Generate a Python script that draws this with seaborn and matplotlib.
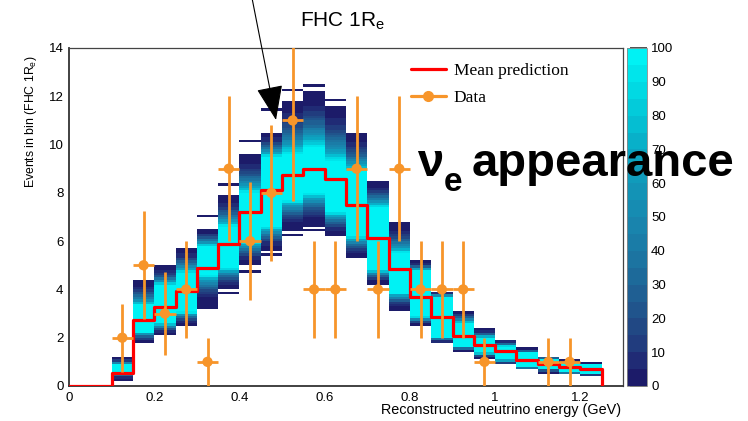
import numpy as np
import matplotlib
matplotlib.use("Agg")
import matplotlib.pyplot as plt
import seaborn as sns
import pandas as pd
from matplotlib.colors import LinearSegmentedColormap, ListedColormap, BoundaryNorm
from matplotlib.lines import Line2D

# ---------------- data ----------------
# reconstructed energy bin edges (GeV), width 0.05
bin_edges = [0.00, 0.05, 0.10, 0.15, 0.20, 0.25, 0.30, 0.35, 0.40, 0.45, 0.50,
             0.55, 0.60, 0.65, 0.70, 0.75, 0.80, 0.85, 0.90, 0.95, 1.00, 1.05,
             1.10, 1.15, 1.20, 1.25]
# mean prediction per bin (25 bins)
mean_pred = [0.0, 0.0, 0.55, 2.72, 3.26, 3.95, 4.88, 5.90, 7.20, 8.10, 8.74,
             9.00, 8.57, 7.50, 6.15, 4.85, 3.70, 2.87, 2.07, 1.70, 1.46, 1.08,
             0.91, 0.80, 0.70]

# data points (bins with zero events are not drawn)
data_x = [0.125, 0.175, 0.225, 0.275, 0.325, 0.375, 0.425, 0.475, 0.525, 0.575,
          0.625, 0.675, 0.725, 0.775, 0.825, 0.875, 0.925, 0.975, 1.125, 1.175]
data_y = [2, 5, 3, 4, 1, 9, 6, 8, 11, 4, 4, 9, 4, 9, 4, 4, 4, 1, 1, 1]
data_err = [1.41, 2.24, 1.73, 2.00, 1.00, 3.00, 2.45, 2.83, 3.32, 2.00, 2.00,
            3.00, 2.00, 3.00, 2.00, 2.00, 2.00, 1.00, 1.00, 1.00]

# toy-prediction spread per column (columns start at 0.10 GeV)
band_lo = [0.25, 1.78, 2.07, 2.50, 3.35, 3.97, 5.00, 5.60, 6.45, 6.65, 6.20, 5.30,
           4.25, 3.15, 2.46, 1.77, 1.42, 1.15, 0.87, 0.66, 0.55, 0.46, 0.39]
band_hi = [1.16, 4.36, 4.97, 5.70, 6.50, 7.90, 9.60, 10.50, 11.80, 12.20, 11.65,
           10.45, 8.50, 6.75, 5.15, 3.90, 3.15, 2.36, 1.94, 1.55, 1.24, 1.08, 0.95]
core_lo = [0.58, 2.25, 2.60, 3.07, 4.60, 4.90, 6.00, 6.60, 7.70, 8.00, 7.20, 6.20,
           4.80, 3.85, 2.87, 2.04, 1.63, 1.37, 1.08, 0.80, 0.75, 0.60, 0.53]
core_hi = [0.87, 3.35, 4.18, 4.70, 5.80, 6.60, 8.00, 9.50, 9.60, 9.90, 9.30, 8.90,
           7.40, 5.50, 4.80, 3.70, 2.60, 2.00, 1.63, 1.37, 1.08, 0.95, 0.87]
iso_hi = [np.nan, np.nan, np.nan, np.nan, 7.10, 8.30, 10.20, 11.40, 12.26, 12.45,
          11.87, np.nan, np.nan, np.nan, np.nan, np.nan, np.nan, np.nan, np.nan,
          np.nan, np.nan, np.nan, np.nan]
iso_lo = [np.nan, np.nan, np.nan, np.nan, 3.20, 3.85, 4.75, 5.40, 6.25, 6.45,
          np.nan, np.nan, np.nan, np.nan, np.nan, np.nan, np.nan, np.nan, np.nan,
          np.nan, np.nan, np.nan, np.nan]

cbar_ticks = [0, 10, 20, 30, 40, 50, 60, 70, 80, 90, 100]

# ---------------- style ----------------
sns.set_style("white")
plt.rcParams['font.family'] = ['Liberation Sans', 'DejaVu Sans']
plt.rcParams['mathtext.fontset'] = 'custom'
plt.rcParams['mathtext.rm'] = 'Liberation Sans'
plt.rcParams['mathtext.it'] = 'Liberation Sans'
plt.rcParams['text.color'] = 'black'
plt.rcParams['xtick.labelcolor'] = 'black'
plt.rcParams['ytick.labelcolor'] = 'black'

W, H = 748, 421
fig = plt.figure(figsize=(W / 100, H / 100), dpi=100)
def fx(px): return px / W
def fy(py): return 1 - py / H

ax = fig.add_axes([fx(69), fy(386), fx(623) - fx(69), fy(48) - fy(386)])

# colormap (ROOT-like, 20 discrete levels)
anchors = ['#1b1462', '#1e2270', '#22357a', '#204f88', '#1e6597', '#1b78a4',
           '#1888b0', '#1296b8', '#0aa9c4', '#04c4d6', '#00dfe6', '#00f8f8']
pos = [0, 0.05, 0.1, 0.2, 0.3, 0.4, 0.5, 0.6, 0.7, 0.8, 0.9, 1.0]
base = LinearSegmentedColormap.from_list('rootcool', list(zip(pos, anchors)))
levels = np.arange(0, 105, 5)
cmap = ListedColormap([base((l + 2.5) / 100) for l in levels[:-1]])
norm = BoundaryNorm(levels, cmap.N)

# 2D toy histogram
col_edges = np.array(bin_edges[2:])
y_edges = np.arange(0, 14.0001, 0.1)
yc = 0.5 * (y_edges[1:] + y_edges[:-1])
Z = np.zeros((len(yc), len(col_edges) - 1))
for j in range(len(col_edges) - 1):
    lo, hi, clo, chi = band_lo[j], band_hi[j], core_lo[j], core_hi[j]
    for i, y in enumerate(yc):
        if clo <= y <= chi:
            v = 100
        elif lo <= y < clo:
            t = (y - lo) / (clo - lo)
            v = 1 + 98 * t ** 2.3
        elif chi < y <= hi:
            t = (hi - y) / (hi - chi)
            v = 1 + 98 * t ** 2.3
        else:
            v = 0
        Z[i, j] = v
    for iso in (iso_hi[j], iso_lo[j]):
        if not np.isnan(iso):
            Z[int(iso / 0.1), j] = 2
Zm = np.ma.masked_where(Z <= 0, Z)
mesh = ax.pcolormesh(col_edges, y_edges, Zm, cmap=cmap, norm=norm, zorder=1)

# mean prediction (step)
step_x = list(bin_edges) + [bin_edges[-1]]
step_y = list(mean_pred) + [mean_pred[-1], 0.0]
df_line = pd.DataFrame({'x': step_x, 'y': step_y})
sns.lineplot(data=df_line, x='x', y='y', ax=ax, color='#ff0000', lw=2.3,
             drawstyle='steps-post', estimator=None, sort=False, zorder=3)

# data
orange = '#f7952a'
ax.errorbar(data_x, data_y, xerr=0.025, yerr=data_err, fmt='none',
            ecolor=orange, elinewidth=2.0, capsize=0, zorder=4)
df_pts = pd.DataFrame({'x': data_x, 'y': data_y})
sns.scatterplot(data=df_pts, x='x', y='y', ax=ax, color=orange, s=55,
                edgecolor='none', zorder=5)

ax.set_xlim(0, 1.3)
ax.set_ylim(0, 14)
ax.set_xlabel('')
ax.set_ylabel('')
ax.set_xticks([0, 0.2, 0.4, 0.6, 0.8, 1.0, 1.2])
ax.set_xticklabels(['0', '0.2', '0.4', '0.6', '0.8', '1', '1.2'])
ax.set_xticks(np.arange(0, 1.30, 0.05), minor=True)
ax.set_yticks([0, 2, 4, 6, 8, 10, 12, 14])
ax.set_yticks(np.arange(0, 14.01, 0.5), minor=True)
ax.tick_params(axis='x', which='major', direction='in', length=7, width=1.1,
               color='#333333', labelsize=9.5, pad=4)
ax.tick_params(axis='x', which='minor', direction='in', length=3.5, width=1.1,
               color='#333333')
ax.tick_params(axis='y', which='major', direction='in', length=12.5, width=1.1,
               color='#333333', labelsize=9.5, pad=4)
ax.tick_params(axis='y', which='minor', direction='in', length=6.5, width=1.1,
               color='#333333')
ax.tick_params(top=False, right=False, which='both')
for s in ['left', 'bottom']:
    ax.spines[s].set_color('#333333')
    ax.spines[s].set_linewidth(1.3)
for s in ['top', 'right']:
    ax.spines[s].set_color('#444444')
    ax.spines[s].set_linewidth(0.9)

# colorbar
cax = fig.add_axes([fx(627), fy(386), fx(647) - fx(627), fy(48) - fy(386)])
cb = fig.colorbar(mesh, cax=cax, ticks=cbar_ticks)
cb.outline.set_edgecolor('#888888')
cb.outline.set_linewidth(0.6)
cax.tick_params(direction='in', length=12, width=1.1, color='#222222',
                labelsize=9.5, pad=3, right=True)
cax.minorticks_off()

# legend
handles = [Line2D([], [], color='#ff0000', lw=2.3),
           Line2D([], [], color=orange, lw=2.3, marker='o', ms=7)]
ax.legend(handles, ['Mean prediction', 'Data'], loc='upper left',
          bbox_to_anchor=(fx(411), fy(63)), bbox_transform=fig.transFigure,
          frameon=False, borderpad=0, borderaxespad=0, handlelength=2.0,
          handletextpad=0.45, labelspacing=0.62,
          prop={'family': 'Liberation Serif', 'size': 12.5})

# labels and titles
fig.text(fx(343), fy(21), r'FHC 1R$_{\mathrm{e}}$', ha='center', va='center',
         fontsize=15)
fig.text(fx(31), fy(56), r'Events in bin (FHC 1R$_{\mathrm{e}}$)', rotation=90,
         ha='center', va='top', fontsize=8.8)
fig.text(fx(621), fy(410), 'Reconstructed neutrino energy (GeV)', ha='right',
         va='center', fontsize=10.4)

# big annotation
fig.text(fx(417), fy(176), '\u03bd', ha='left', va='baseline', fontsize=34,
         fontweight='bold', color='black')
fig.text(fx(444), fy(191), 'e', ha='left', va='baseline', fontsize=24,
         fontweight='bold', color='black')
fig.text(fx(472), fy(176), 'appearance', ha='left', va='baseline', fontsize=34,
         fontweight='bold', color='black')

# arrow
ax.annotate('', xy=(276, H - 120), xycoords='figure pixels',
            xytext=(252, H + 2), textcoords='figure pixels',
            arrowprops=dict(arrowstyle='-|>,head_length=1.1,head_width=0.42',
                            mutation_scale=20, lw=0.8, color='black',
                            shrinkA=0, shrinkB=0),
            annotation_clip=False, zorder=10)

fig.savefig('out.png', dpi=100)
